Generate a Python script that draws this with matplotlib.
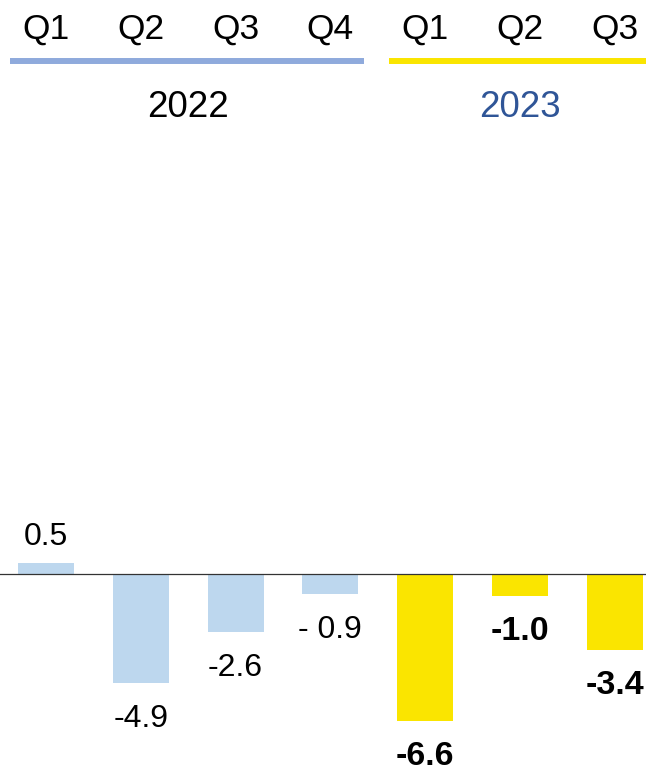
import matplotlib
matplotlib.use("Agg")
import matplotlib.pyplot as plt
import matplotlib.transforms as mtransforms

# data
quarters = ["Q1", "Q2", "Q3", "Q4", "Q1", "Q2", "Q3"]
values = [0.5, -4.9, -2.6, -0.9, -6.6, -1.0, -3.4]
value_labels = ["0.5", "-4.9", "-2.6", "- 0.9", "-6.6", "-1.0", "-3.4"]
years = ["2022", "2023"]
year_index = [[0, 1, 2, 3], [4, 5, 6]]

bar_colors = ["#BDD7EE", "#FAE500"]
line_colors = ["#8FAADC", "#FAE500"]
year_text_colors = ["#000000", "#2F5597"]
label_weights = ["normal", "bold"]
label_sizes = [23, 24.5]

plt.rcParams["font.family"] = ["Liberation Sans", "DejaVu Sans"]

fig = plt.figure(figsize=(6.46, 7.71), dpi=100)
ax = fig.add_axes([0, 0, 1, 1])
ax.set_xlim(-0.485, 6.33)
ax.set_ylim(-8.83, 25.74)
ax.axis("off")

trans = mtransforms.blended_transform_factory(ax.transData, ax.transAxes)

for g, idx in enumerate(year_index):
    xs = idx
    ys = [values[i] for i in idx]
    ax.bar(xs, ys, width=0.59, color=bar_colors[g], zorder=2)

    for i in idx:
        v = values[i]
        off = 13 if v >= 0 else -31.5
        ax.annotate(
            value_labels[i],
            (i, v),
            xytext=(0, off),
            textcoords="offset points",
            ha="center",
            va="baseline",
            fontsize=label_sizes[g],
            fontweight=label_weights[g],
            annotation_clip=False,
        )
        ax.text(i, 0.9494, quarters[i], transform=trans,
                ha="center", va="baseline", fontsize=25.5)

    ax.plot([idx[0] - 0.38, idx[-1] + 0.35], [0.9209, 0.9209],
            transform=trans, color=line_colors[g], lw=4.3,
            solid_capstyle="butt", clip_on=False)

    ax.text(sum(idx) / len(idx), 0.8482, years[g], transform=trans,
            ha="center", va="baseline", fontsize=26.5,
            color=year_text_colors[g])

ax.axhline(0, color="#333333", lw=0.9, zorder=3)

fig.savefig("out.png", dpi=100)
